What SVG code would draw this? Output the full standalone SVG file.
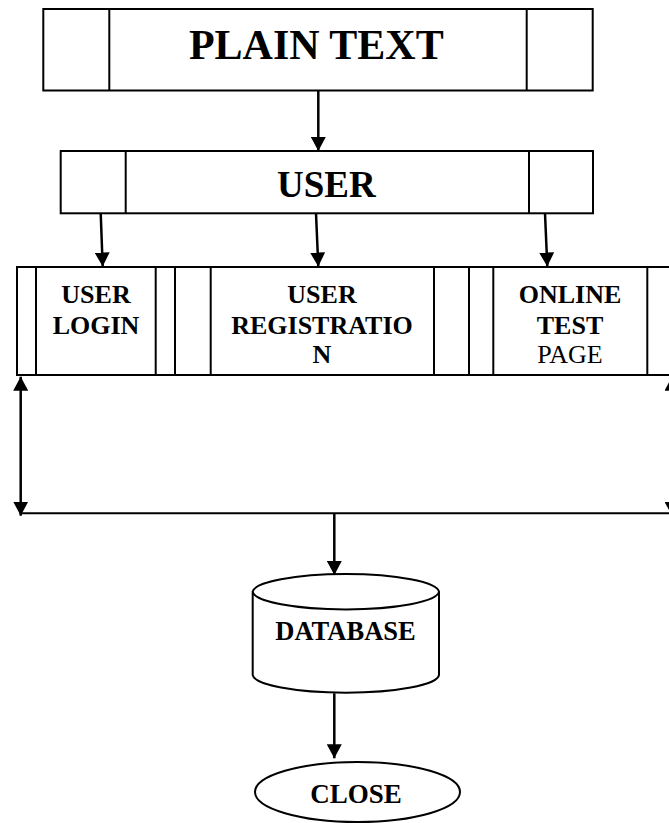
<svg xmlns="http://www.w3.org/2000/svg" width="669" height="823" viewBox="0 0 669 823">
<defs>
<marker id="ah" markerUnits="userSpaceOnUse" markerWidth="14" markerHeight="15" refX="14" refY="7.5" orient="auto-start-reverse">
<path d="M0,0 L14,7.5 L0,15 Z" fill="#000"/>
</marker>
</defs>
<style>
.box{fill:#fff;stroke:#000;stroke-width:2}
.ln{stroke:#000;stroke-width:2;fill:none}
.cn{stroke:#000;stroke-width:2.5;fill:none}
.t{font-family:"Liberation Serif","Times New Roman",serif;font-weight:bold;fill:#000;text-anchor:middle}
.r{font-weight:normal}
</style>
<rect width="669" height="823" fill="#fff"/>
<g id="plain-text">
<rect class="box" x="43.3" y="9" width="549.4" height="81.5"/>
<line class="ln" x1="109.3" y1="9" x2="109.3" y2="90.5"/>
<line class="ln" x1="526.7" y1="9" x2="526.7" y2="90.5"/>
<text class="t" x="316.3" y="59.3" font-size="42">PLAIN TEXT</text>
</g>
<g id="user">
<rect class="box" x="60.7" y="151" width="532.3" height="62.3"/>
<line class="ln" x1="125.7" y1="151" x2="125.7" y2="213.3"/>
<line class="ln" x1="529" y1="151" x2="529" y2="213.3"/>
<text class="t" x="326.3" y="196.7" font-size="37">USER</text>
</g>
<g id="user-login">
<rect class="box" x="17" y="267" width="158" height="108"/>
<line class="ln" x1="36" y1="267" x2="36" y2="375"/>
<line class="ln" x1="155.7" y1="267" x2="155.7" y2="375"/>
<text class="t" x="96" y="303.3" font-size="26">USER</text>
<text class="t" x="96" y="334.3" font-size="26">LOGIN</text>
</g>
<g id="user-registration">
<rect class="box" x="175" y="267" width="294" height="108"/>
<line class="ln" x1="210.7" y1="267" x2="210.7" y2="375"/>
<line class="ln" x1="434" y1="267" x2="434" y2="375"/>
<text class="t" x="322" y="303.3" font-size="26">USER</text>
<text class="t" x="322" y="334.3" font-size="26">REGISTRATIO</text>
<text class="t" x="322" y="363.3" font-size="26">N</text>
</g>
<g id="online-test-page">
<rect class="box" x="469" y="267" width="240" height="108"/>
<line class="ln" x1="493.3" y1="267" x2="493.3" y2="375"/>
<line class="ln" x1="647.3" y1="267" x2="647.3" y2="375"/>
<text class="t" x="570" y="303.3" font-size="26">ONLINE</text>
<text class="t" x="570" y="334.3" font-size="26">TEST</text>
<text class="t r" x="570" y="363.3" font-size="26">PAGE</text>
</g>
<g id="database">
<path class="box" d="M252.7,591.7 L252.7,675 A93.2,18.3 0 0 0 439,675 L439,591.7 A93.2,18.3 0 0 0 252.7,591.7 Z"/>
<path class="ln" d="M252.7,591.7 A93.2,18.3 0 0 0 439,591.7"/>
<text class="t" x="345.5" y="640" font-size="26.5">DATABASE</text>
</g>
<g id="close">
<ellipse class="box" cx="357.5" cy="792" rx="102.5" ry="30"/>
<text class="t" x="356" y="803.3" font-size="27">CLOSE</text>
</g>
<g id="connectors">
<line class="cn" x1="318.3" y1="90.5" x2="318.3" y2="151" marker-end="url(#ah)"/>
<line class="cn" x1="100.7" y1="213.3" x2="102.7" y2="266.5" marker-end="url(#ah)"/>
<line class="cn" x1="316" y1="213.3" x2="318.3" y2="266.5" marker-end="url(#ah)"/>
<line class="cn" x1="545" y1="213.3" x2="547.3" y2="266.5" marker-end="url(#ah)"/>
<line class="cn" x1="20.7" y1="376.7" x2="20.7" y2="515.7" marker-start="url(#ah)" marker-end="url(#ah)"/>
<line class="cn" x1="672" y1="376.7" x2="672" y2="515.7" marker-start="url(#ah)" marker-end="url(#ah)"/>
<line class="ln" x1="20.7" y1="513.3" x2="672" y2="513.3"/>
<line class="cn" x1="334.3" y1="513.3" x2="334.3" y2="575" marker-end="url(#ah)"/>
<line class="cn" x1="334.3" y1="693.3" x2="334.3" y2="758.3" marker-end="url(#ah)"/>
</g>
</svg>
